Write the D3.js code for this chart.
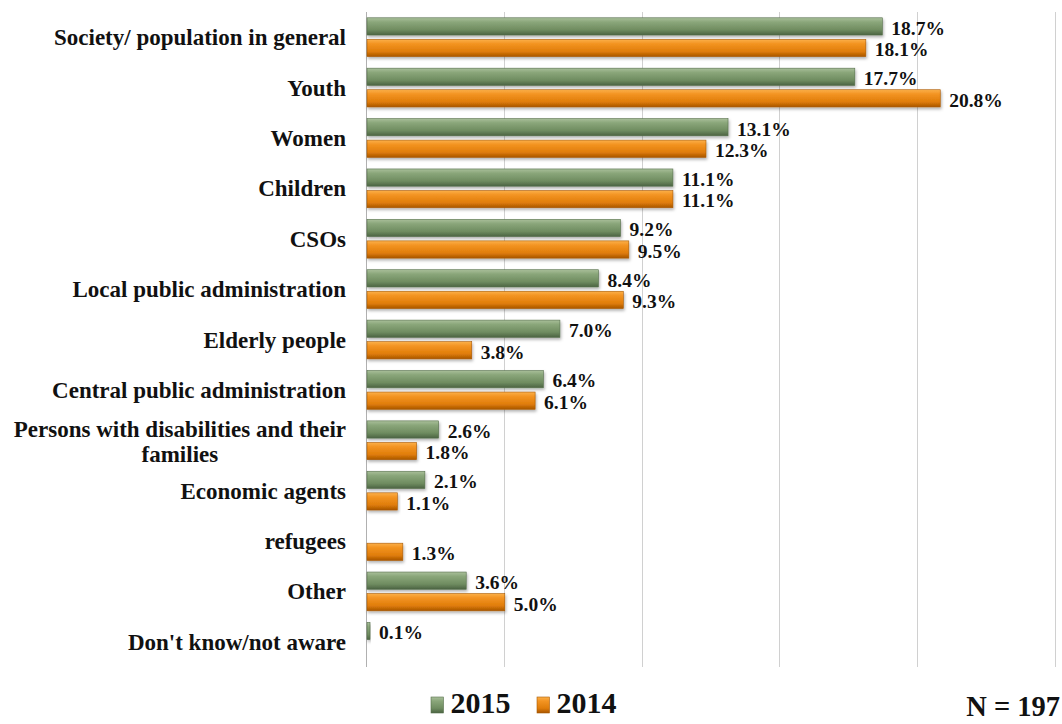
<!DOCTYPE html>
<html><head><meta charset="utf-8">
<script src="https://cdn.jsdelivr.net/npm/d3@7"></script>
<style>
html,body{margin:0;padding:0;background:#fff;}
svg{display:block;}
text{font-family:"Liberation Serif","Times New Roman",serif;font-weight:bold;fill:#111;}
</style></head>
<body>
<svg id="chart" width="1062" height="724"></svg>
<script>
const categories = ["Society/ population in general","Youth","Women","Children","CSOs","Local public administration","Elderly people","Central public administration","Persons with disabilities and their families","Economic agents","refugees","Other","Don't know/not aware"];
const series = ["2015","2014"];
const values2015 = [18.7,17.7,13.1,11.1,9.2,8.4,7.0,6.4,2.6,2.1,null,3.6,0.1];
const values2014 = [18.1,20.8,12.3,11.1,9.5,9.3,3.8,6.1,1.8,1.1,1.3,5.0,null];
const xTicks = [0,5,10,15,20,25];
const footnote = "N = 197";

const svg = d3.select("#chart");
const m = {left:366, right:1055, top:12, bottom:667};

const x = d3.scaleLinear().domain([0,25]).range([m.left, m.right]);
const y = d3.scaleBand().domain(categories).range([m.top, m.bottom]);
const ys = d3.scaleBand().domain(series).range([5.8, y.bandwidth()-5.8]).paddingInner(0.2);

const defs = svg.append("defs");
function grad(id, stops){
  const g = defs.append("linearGradient").attr("id",id).attr("x1",0).attr("x2",0).attr("y1",0).attr("y2",1);
  stops.forEach(s=>g.append("stop").attr("offset",s[0]).attr("stop-color",s[1]));
}
grad("g2015",[[0,"#a9bf9a"],[0.25,"#8aa67a"],[0.7,"#6f8c60"],[1,"#4b6342"]]);
grad("g2014",[[0,"#fbb04a"],[0.25,"#f39422"],[0.7,"#e07d0a"],[1,"#a85500"]]);
const shadow = defs.append("filter").attr("id","sh").attr("x","-5%").attr("y","-20%").attr("width","115%").attr("height","160%");
shadow.append("feDropShadow").attr("dx",1).attr("dy",2).attr("stdDeviation",1.5).attr("flood-color","#000").attr("flood-opacity",0.3);

// gridlines
svg.append("g").selectAll("line").data(xTicks).join("line")
  .attr("x1",d=>Math.round(x(d))+0.5).attr("x2",d=>Math.round(x(d))+0.5)
  .attr("y1",m.top).attr("y2",m.bottom)
  .attr("stroke",d=>d===0?"#b0b0b0":"#d0d0d0").attr("stroke-width",1);

const rows = categories.map((c,i)=>({c, v:{"2015":values2015[i],"2014":values2014[i]}}));
const fill = {"2015":"url(#g2015)","2014":"url(#g2014)"};
const edge = {"2015":"#566f4b","2014":"#a95a05"};

const gBars = svg.append("g");
series.forEach(s=>{
  const data = rows.filter(r=>r.v[s]!=null);
  gBars.append("g").selectAll("rect").data(data).join("rect")
    .attr("x",x(0)+1)
    .attr("y",d=>y(d.c)+ys(s))
    .attr("width",d=>Math.max(x(d.v[s])-x(0),3))
    .attr("height",ys.bandwidth())
    .attr("fill",fill[s])
    .attr("stroke",edge[s]).attr("stroke-width",0.6)
    .attr("filter","url(#sh)");
  gBars.append("g").selectAll("text").data(data).join("text")
    .attr("x",d=>x(0)+Math.max(x(d.v[s])-x(0),3)+10)
    .attr("y",d=>y(d.c)+ys(s)+ys.bandwidth()/2+1.5)
    .attr("dy","0.35em")
    .attr("font-size",19.5)
    .text(d=>d.v[s].toFixed(1)+"%");
});

// category labels
const labRight = 346;
const labSize = 23;
const wrapLines = {"Persons with disabilities and their families":["Persons with disabilities and their","families"]};
const gLab = svg.append("g");
categories.forEach(c=>{
  const cy = y(c)+y.bandwidth()/2;
  const lines = wrapLines[c];
  if(!lines){
    gLab.append("text").attr("x",labRight).attr("y",cy).attr("dy","0.35em")
      .attr("text-anchor","end").attr("font-size",labSize).text(c);
  } else {
    const t = gLab.append("text").attr("font-size",labSize).attr("text-anchor","middle");
    const tmp = gLab.append("text").attr("font-size",labSize).text(lines[0]);
    const w = tmp.node().getComputedTextLength(); tmp.remove();
    const cx = labRight - w/2;
    const lh = 25;
    lines.forEach((l,k)=>{
      t.append("tspan").attr("x",cx).attr("y",cy + 1 + (k-(lines.length-1)/2)*lh).attr("dy","0.35em").text(l);
    });
  }
});

// legend
const leg = svg.append("g");
const legItems = [{s:"2015",x:431},{s:"2014",x:537}];
legItems.forEach(it=>{
  leg.append("rect").attr("x",it.x).attr("y",697).attr("width",12.5).attr("height",16)
    .attr("fill",fill[it.s]).attr("stroke",edge[it.s]).attr("stroke-width",0.6);
  leg.append("text").attr("x",it.x+19.5).attr("y",713).attr("font-size",30).text(it.s);
});
svg.append("text").attr("x",1060).attr("y",716).attr("text-anchor","end")
  .attr("font-size",28.5).text(footnote);
</script>
</body></html>
